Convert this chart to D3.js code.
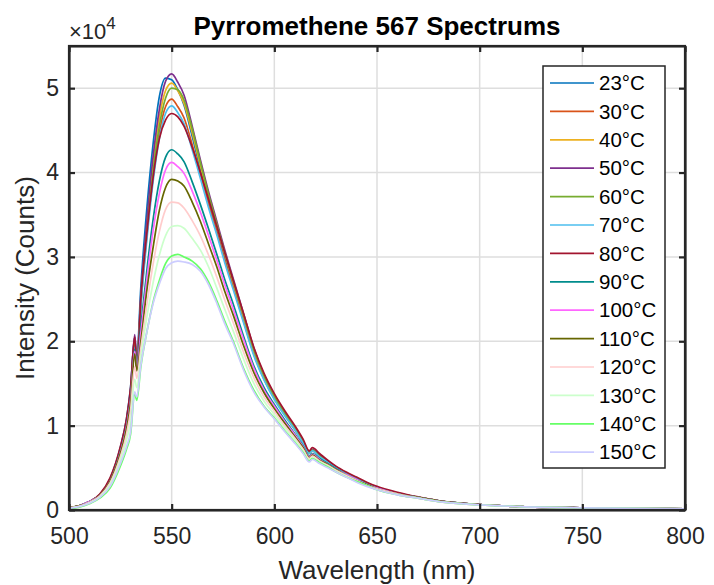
<!DOCTYPE html>
<html>
<head>
<meta charset="utf-8">
<script src="https://cdn.jsdelivr.net/npm/d3@7"></script>
<style>
  html, body { margin: 0; padding: 0; background: #fff; }
  svg { display: block; font-family: "Liberation Sans", Arial, Helvetica, sans-serif; }
</style>
</head>
<body>
<svg id="chart" width="714" height="585"></svg>
<script>
// Wavelength grid (nm)
const wavelengths = [500,505,510,515,520,525,528,530,532,533,535,538,541,544,547,550,553,556,560,564,568,572,576,580,585,590,595,600,605,610,614,617,618.5,622,626,630,635,640,645,650,660,670,680,700,720,750,800];

// Intensity values in units of 10^4 counts
const s23  = [0.03,0.05,0.10,0.18,0.37,0.74,1.08,1.46,2.05,1.82,2.65,3.60,4.35,4.90,5.12,5.10,4.98,4.80,4.43,4.04,3.66,3.31,2.97,2.65,2.26,1.87,1.56,1.33,1.14,0.96,0.81,0.68,0.71,0.64,0.57,0.50,0.43,0.37,0.32,0.27,0.20,0.15,0.11,0.065,0.04,0.025,0.015];
const s30  = [0.03,0.05,0.10,0.18,0.35,0.70,1.01,1.35,1.95,1.72,2.44,3.27,3.96,4.47,4.78,4.87,4.78,4.65,4.33,3.97,3.62,3.29,2.95,2.64,2.24,1.85,1.55,1.32,1.13,0.95,0.80,0.67,0.70,0.64,0.57,0.50,0.43,0.37,0.31,0.27,0.20,0.15,0.11,0.065,0.04,0.025,0.015];
const s40  = [0.03,0.05,0.10,0.18,0.36,0.71,1.04,1.40,2.00,1.76,2.51,3.38,4.11,4.65,4.97,5.06,4.97,4.82,4.47,4.08,3.72,3.37,3.03,2.70,2.30,1.89,1.58,1.35,1.15,0.97,0.81,0.68,0.71,0.64,0.58,0.51,0.44,0.38,0.32,0.27,0.20,0.15,0.11,0.065,0.04,0.025,0.015];
const s50  = [0.03,0.05,0.10,0.18,0.36,0.72,1.05,1.42,2.08,1.78,2.55,3.45,4.20,4.75,5.08,5.17,5.07,4.92,4.55,4.15,3.77,3.42,3.07,2.74,2.33,1.92,1.60,1.36,1.16,0.98,0.82,0.69,0.72,0.65,0.58,0.51,0.44,0.38,0.32,0.27,0.20,0.15,0.11,0.065,0.04,0.025,0.015];
const s60  = [0.03,0.05,0.10,0.18,0.35,0.70,1.02,1.38,1.97,1.74,2.45,3.30,4.02,4.55,4.88,5.00,4.98,4.86,4.52,4.12,3.74,3.39,3.04,2.71,2.31,1.90,1.59,1.35,1.15,0.97,0.81,0.68,0.71,0.64,0.57,0.51,0.44,0.38,0.32,0.27,0.20,0.15,0.11,0.065,0.04,0.025,0.015];
const s70  = [0.03,0.05,0.10,0.18,0.35,0.69,1.00,1.34,1.93,1.71,2.41,3.22,3.90,4.40,4.70,4.79,4.71,4.58,4.27,3.93,3.58,3.26,2.92,2.61,2.22,1.83,1.54,1.31,1.12,0.95,0.79,0.67,0.70,0.63,0.57,0.50,0.43,0.37,0.31,0.26,0.20,0.15,0.11,0.065,0.04,0.025,0.015];
const s80  = [0.03,0.05,0.10,0.19,0.38,0.75,1.08,1.45,2.05,1.66,2.50,3.30,3.95,4.40,4.62,4.70,4.66,4.55,4.30,4.00,3.68,3.36,3.04,2.72,2.33,1.93,1.62,1.38,1.18,1.00,0.84,0.70,0.74,0.67,0.59,0.52,0.45,0.39,0.33,0.28,0.21,0.155,0.11,0.065,0.04,0.025,0.015];
const s90  = [0.03,0.05,0.10,0.17,0.34,0.69,0.99,1.32,1.90,1.69,2.18,2.86,3.45,3.90,4.18,4.27,4.22,4.13,3.89,3.62,3.33,3.03,2.72,2.44,2.06,1.71,1.45,1.25,1.07,0.90,0.76,0.64,0.67,0.61,0.55,0.49,0.42,0.36,0.30,0.26,0.19,0.15,0.11,0.065,0.04,0.025,0.015];
const s100 = [0.03,0.05,0.10,0.17,0.34,0.68,0.98,1.30,1.88,1.67,2.10,2.75,3.32,3.75,4.03,4.12,4.07,3.99,3.78,3.53,3.25,2.96,2.66,2.38,2.02,1.68,1.42,1.23,1.05,0.89,0.75,0.63,0.66,0.60,0.54,0.48,0.42,0.36,0.30,0.26,0.19,0.15,0.11,0.065,0.04,0.025,0.015];
const s110 = [0.03,0.05,0.09,0.17,0.34,0.67,0.96,1.27,1.85,1.65,2.00,2.62,3.12,3.55,3.82,3.92,3.90,3.84,3.65,3.42,3.15,2.88,2.58,2.31,1.95,1.63,1.39,1.20,1.03,0.87,0.74,0.62,0.65,0.59,0.54,0.48,0.41,0.35,0.30,0.25,0.19,0.15,0.11,0.065,0.04,0.025,0.015];
const s120 = [0.025,0.045,0.09,0.165,0.32,0.63,0.90,1.18,1.70,1.56,1.92,2.45,2.92,3.30,3.56,3.65,3.64,3.58,3.43,3.25,3.02,2.76,2.48,2.22,1.87,1.57,1.34,1.17,1.00,0.85,0.72,0.61,0.64,0.58,0.53,0.47,0.41,0.35,0.29,0.25,0.19,0.14,0.10,0.06,0.04,0.025,0.015];
const s130 = [0.02,0.04,0.085,0.155,0.30,0.59,0.83,1.05,1.55,1.45,1.82,2.30,2.70,3.02,3.25,3.36,3.37,3.34,3.22,3.08,2.88,2.63,2.37,2.12,1.79,1.50,1.29,1.13,0.97,0.83,0.70,0.59,0.62,0.57,0.52,0.46,0.40,0.34,0.29,0.24,0.18,0.14,0.10,0.06,0.04,0.025,0.015];
const s140 = [0.02,0.035,0.075,0.14,0.26,0.52,0.72,0.90,1.38,1.30,1.70,2.12,2.47,2.72,2.92,3.01,3.03,3.00,2.95,2.86,2.70,2.48,2.23,2.00,1.68,1.42,1.23,1.09,0.94,0.80,0.68,0.58,0.61,0.56,0.51,0.45,0.39,0.34,0.29,0.24,0.18,0.14,0.10,0.06,0.04,0.025,0.015];
const s150 = [0.02,0.04,0.08,0.15,0.28,0.55,0.75,0.93,1.40,1.34,1.72,2.12,2.45,2.68,2.86,2.93,2.95,2.94,2.91,2.83,2.67,2.45,2.20,1.98,1.66,1.40,1.22,1.08,0.93,0.79,0.67,0.57,0.60,0.55,0.50,0.45,0.39,0.33,0.28,0.24,0.18,0.14,0.10,0.06,0.04,0.025,0.015];

const seriesNames = ["23°C","30°C","40°C","50°C","60°C","70°C","80°C","90°C","100°C","110°C","120°C","130°C","140°C","150°C"];
const seriesValues = [s23,s30,s40,s50,s60,s70,s80,s90,s100,s110,s120,s130,s140,s150];
const seriesColors = ["#0072BD","#D95319","#EDB120","#7E2F8E","#77AC30","#4DBEEE","#A2142F","#008C8C","#FF66FF","#666600","#FFCCCC","#CCFFCC","#66FF66","#CCCCFF"];

const xTicks = [500,550,600,650,700,750,800];
const yTicks = [0,1,2,3,4,5];

const M = {left: 69, right: 685, top: 46, bottom: 510};
const axisColor = "#262626";

const svg = d3.select("#chart");
const x = d3.scaleLinear().domain([500, 800]).range([M.left, M.right]);
const y = d3.scaleLinear().domain([0, 5.5]).range([M.bottom, M.top]);

svg.append("rect").attr("x", M.left).attr("y", M.top)
  .attr("width", M.right - M.left).attr("height", M.bottom - M.top).attr("fill", "#fff");

// grid
const grid = svg.append("g");
grid.selectAll("line.gx").data(xTicks).join("line")
  .attr("x1", d => x(d)).attr("x2", d => x(d))
  .attr("y1", M.top).attr("y2", M.bottom)
  .attr("stroke", "#dedede").attr("stroke-width", 1.5);
grid.selectAll("line.gy").data(yTicks).join("line")
  .attr("x1", M.left).attr("x2", M.right)
  .attr("y1", d => y(d)).attr("y2", d => y(d))
  .attr("stroke", "#dedede").attr("stroke-width", 1.5);

// lines
const line = d3.line()
  .x((d, i) => x(wavelengths[i]))
  .y(d => y(d))
  .curve(d3.curveMonotoneX);

const plot = svg.append("g");
seriesValues.forEach((vals, k) => {
  plot.append("path")
    .datum(vals)
    .attr("d", line)
    .attr("fill", "none")
    .attr("stroke", seriesColors[k])
    .attr("stroke-width", 1.7)
    .attr("stroke-linejoin", "round");
});

// axes
function styleAxis(g) {
  g.select(".domain").attr("stroke", axisColor).attr("stroke-width", 2.2);
  g.selectAll(".tick line").attr("stroke", axisColor).attr("stroke-width", 2.2);
  g.selectAll(".tick text").attr("fill", axisColor).style("font-size", "23px")
    .style("font-family", '"Liberation Sans", Arial, sans-serif');
}

const xAxis = svg.append("g").attr("transform", `translate(0,${M.bottom})`)
  .call(d3.axisBottom(x).tickValues(xTicks).tickSizeInner(-6).tickSizeOuter(0).tickPadding(18));
styleAxis(xAxis);

const xAxisTop = svg.append("g").attr("transform", `translate(0,${M.top})`)
  .call(d3.axisTop(x).tickValues(xTicks).tickSizeInner(-6).tickSizeOuter(0).tickFormat(""));
styleAxis(xAxisTop);

const yAxis = svg.append("g").attr("transform", `translate(${M.left},0)`)
  .call(d3.axisLeft(y).tickValues(yTicks).tickSizeInner(-6).tickSizeOuter(0).tickPadding(10).tickFormat(d3.format("d")));
styleAxis(yAxis);

const yAxisRight = svg.append("g").attr("transform", `translate(${M.right},0)`)
  .call(d3.axisRight(y).tickValues(yTicks).tickSizeInner(-6).tickSizeOuter(0).tickFormat(""));
styleAxis(yAxisRight);

svg.append("rect").attr("x", M.left).attr("y", M.top)
  .attr("width", M.right - M.left).attr("height", M.bottom - M.top)
  .attr("fill", "none").attr("stroke", axisColor).attr("stroke-width", 2.2);

// exponent label
const expo = svg.append("text").attr("x", 69).attr("y", 39).attr("fill", axisColor)
  .style("font-size", "22px");
expo.append("tspan").text("×10");
expo.append("tspan").attr("dy", -10).style("font-size", "17px").text("4");

// title
svg.append("text").attr("x", (M.left + M.right) / 2).attr("y", 35)
  .attr("text-anchor", "middle").attr("fill", "#000")
  .style("font-size", "26px").style("font-weight", "bold")
  .text("Pyrromethene 567 Spectrums");

// axis labels
svg.append("text").attr("x", (M.left + M.right) / 2).attr("y", 579)
  .attr("text-anchor", "middle").attr("fill", axisColor)
  .style("font-size", "26px").text("Wavelength (nm)");
svg.append("text")
  .attr("transform", `translate(34,${(M.top + M.bottom) / 2}) rotate(-90)`)
  .attr("text-anchor", "middle").attr("fill", axisColor)
  .style("font-size", "26px").text("Intensity (Counts)");

// legend
const lg = svg.append("g");
const lgX = 543, lgY = 66, lgW = 122, lgH = 402;
lg.append("rect").attr("x", lgX).attr("y", lgY).attr("width", lgW).attr("height", lgH)
  .attr("fill", "#fff").attr("stroke", axisColor).attr("stroke-width", 1.5);
const step = 28.4;
seriesNames.forEach((name, k) => {
  const cy = 83 + k * step;
  lg.append("line").attr("x1", 550).attr("x2", 594).attr("y1", cy).attr("y2", cy)
    .attr("stroke", seriesColors[k]).attr("stroke-width", 1.7);
  lg.append("text").attr("x", 599).attr("y", cy).attr("dy", "0.35em")
    .attr("fill", "#000").style("font-size", "20.5px").text(name);
});
</script>
</body>
</html>
